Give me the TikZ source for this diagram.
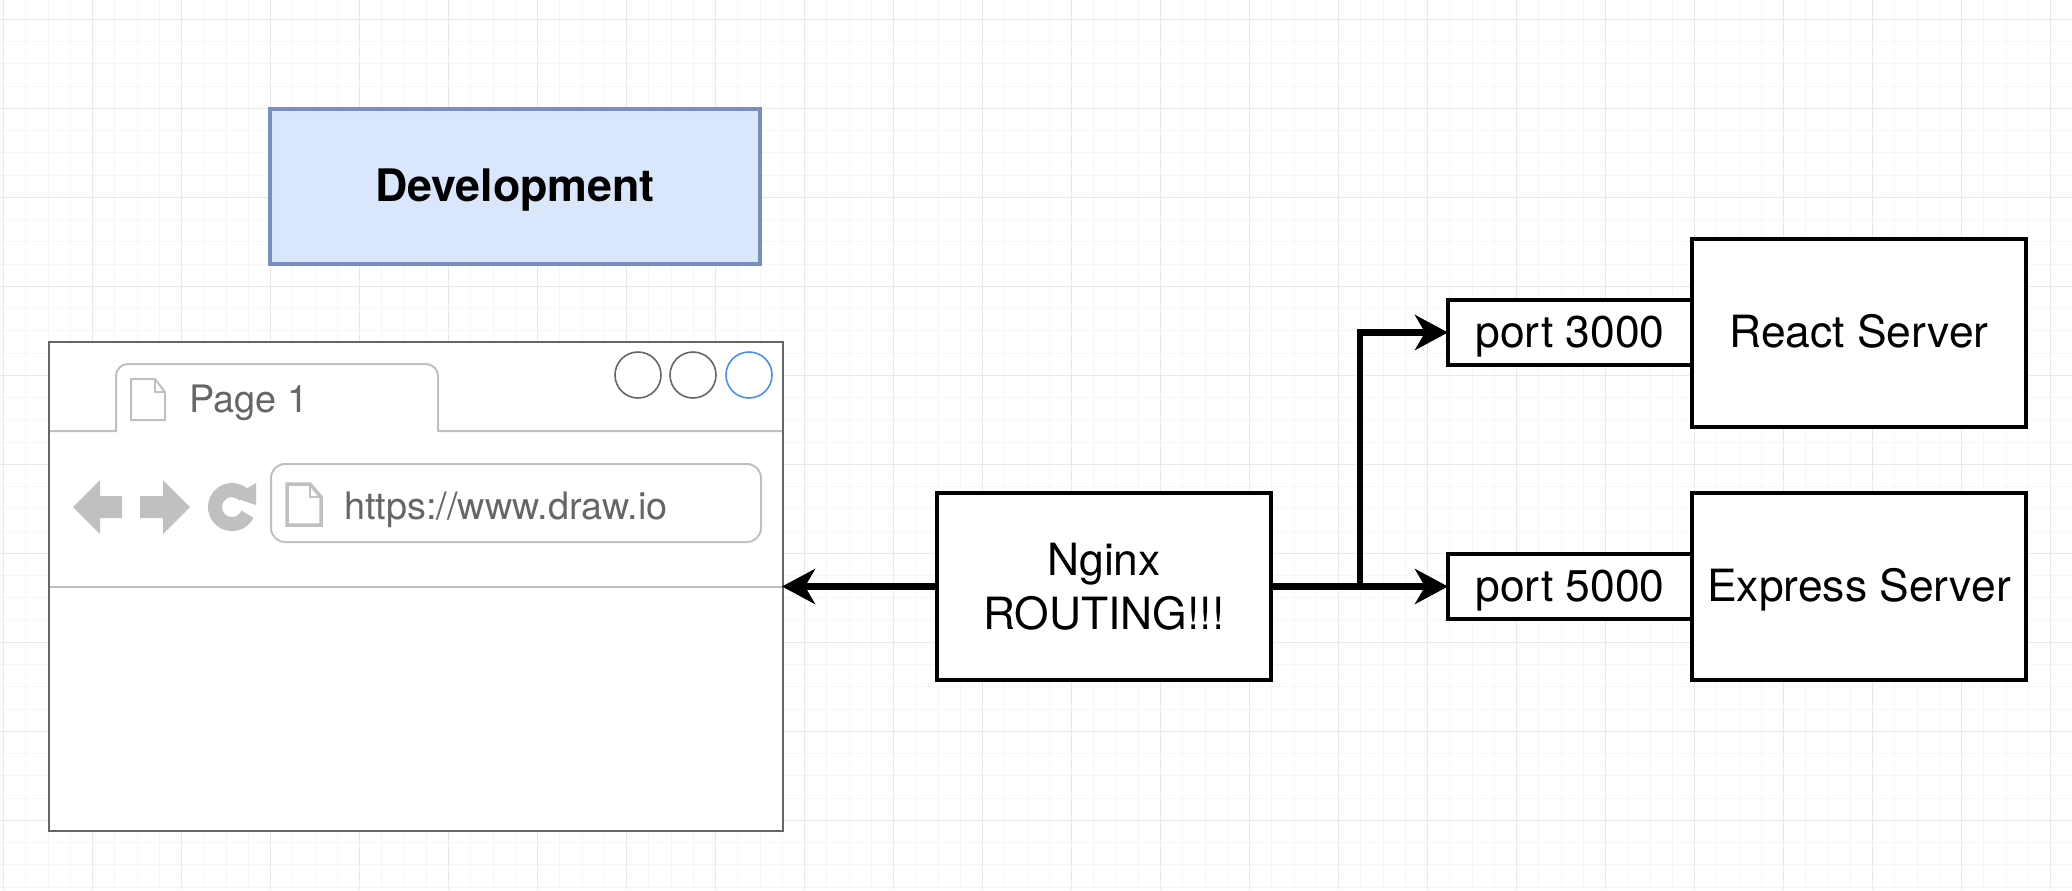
\documentclass[tikz,border=0pt]{standalone}
\usepackage{fontspec}
\setmainfont{TeX Gyre Heros}
\usetikzlibrary{arrows.meta}
\definecolor{gridmajor}{HTML}{E9E9E9}
\definecolor{gridminor}{HTML}{F6F6F6}
\definecolor{chrome}{HTML}{C0C0C0}
\definecolor{chrometext}{HTML}{666666}
\definecolor{winblue}{HTML}{4C8CF5}
\definecolor{develfill}{HTML}{DAE6FB}
\definecolor{develdraw}{HTML}{7890C0}
\tikzset{
    box/.style={draw,line width=2pt,fill=white,inner sep=0pt,align=center,font=\fontsize{22.2}{27}\selectfont},
    oneline/.style={text height=15.5pt,text depth=0.5pt},
    conn/.style={line width=3.2pt,shorten >=-1pt,-{Stealth[length=16.5pt,width=17.5pt,inset=5pt]}},
    chromeline/.style={draw=chrome,line width=1pt},
    chromelabel/.style={text=chrometext,inner sep=0pt,font=\fontsize{18.9}{22}\selectfont},
    winbutton/.style={draw=chrometext,line width=0.8pt}
}
\begin{document}
\begin{tikzpicture}[x=0.5pt,y=-0.5pt]
                    \useasboundingbox (0,0) rectangle (2072,890);
                    \foreach \k in {0,...,93} \draw[gridminor,line width=0.5pt] ({3.7+22.25*\k},0)--({3.7+22.25*\k},890);
                    \foreach \k in {0,...,40} \draw[gridminor,line width=0.5pt] (0,{-2.9+22.25*\k})--(2072,{-2.9+22.25*\k});
                    \foreach \k in {0,...,23} \draw[gridmajor,line width=0.5pt] ({3.7+89*\k},0)--({3.7+89*\k},890);
                    \foreach \k in {0,...,9} \draw[gridmajor,line width=0.5pt] (0,{19.3+89*\k})--(2072,{19.3+89*\k});

                    \node[draw=develdraw,line width=2pt,fill=develfill,minimum width=245pt,minimum height=77.5pt,font=\fontsize{22.4}{27}\selectfont\bfseries,oneline] (devel) at (515,186) {Development};

                    \node[draw=chrometext,line width=1pt,fill=white,minimum width=367pt,minimum height=244.5pt] (browser) at (416,586.5) {};
                    \draw[chromeline] (50,431)--(116,431)[rounded corners=6pt]--(116,364)--(438,364)[sharp corners]--(438,431)--(782,431);
                    \draw[chromeline] (50,587)--(782,587);
                    \draw[chromeline] (131,379)--(155,379)--(165,392)--(165,420)--(131,420)--cycle;
                    \draw[chromeline] (155,379)--(155,392)--(165,392);
                    \node[chromelabel,anchor=base west] (pagename) at (189,412) {Page 1};
                    \draw[winbutton] (638,375) circle (23);
                    \draw[winbutton] (693,375) circle (23);
                    \draw[winbutton,draw=winblue] (749,375) circle (23);
                    \fill[chrome] (73,507)--(100,480)--(100,496)--(122,496)--(122,518)--(100,518)--(100,534)--cycle;
                    \fill[chrome] (190,507)--(163,480)--(163,496)--(140,496)--(140,518)--(163,518)--(163,534)--cycle;
                    \draw[chrome,line width=7pt] (247.4,514.2) arc[start angle=-335,end angle=-45,radius=17];
                    \fill[chrome] (256,483)--(256,505)--(232,497)--cycle;
                    \draw[chromeline,rounded corners=7pt] (271,464) rectangle (761,542);
                    \draw[chrome,line width=1.75pt] (287,484)--(310,484)--(321,497)--(321,525)--(287,525)--cycle;
                    \draw[chrome,line width=1pt] (310,484)--(310,497)--(321,497);
                    \node[chromelabel,anchor=base west] (urltext) at (344,519) {https://www.draw.io};

                    \node[box,minimum width=167pt,minimum height=93.5pt] (nginx) at (1104,586.5) {Nginx\\ROUTING!!!};
                    \node[box,oneline,minimum width=122pt,minimum height=32.5pt] (port3000) at (1570,332.5) {port 3000};
                    \node[box,oneline,minimum width=122pt,minimum height=32.5pt] (port5000) at (1570,586.5) {port 5000};
                    \node[box,oneline,minimum width=167pt,minimum height=94pt] (react) at (1859,332.5) {React Server};
                    \node[box,oneline,minimum width=167pt,minimum height=93.5pt] (express) at (1859,586.5) {Express Server};

                    \coordinate (split) at (1360,586.5);
                    \draw[conn] (nginx.west)--(browser.east);
                    \draw[conn] (nginx.east)--(port5000.west);
                    \draw[conn] (split)|-(port3000.west);
                \end{tikzpicture}
\end{document}
